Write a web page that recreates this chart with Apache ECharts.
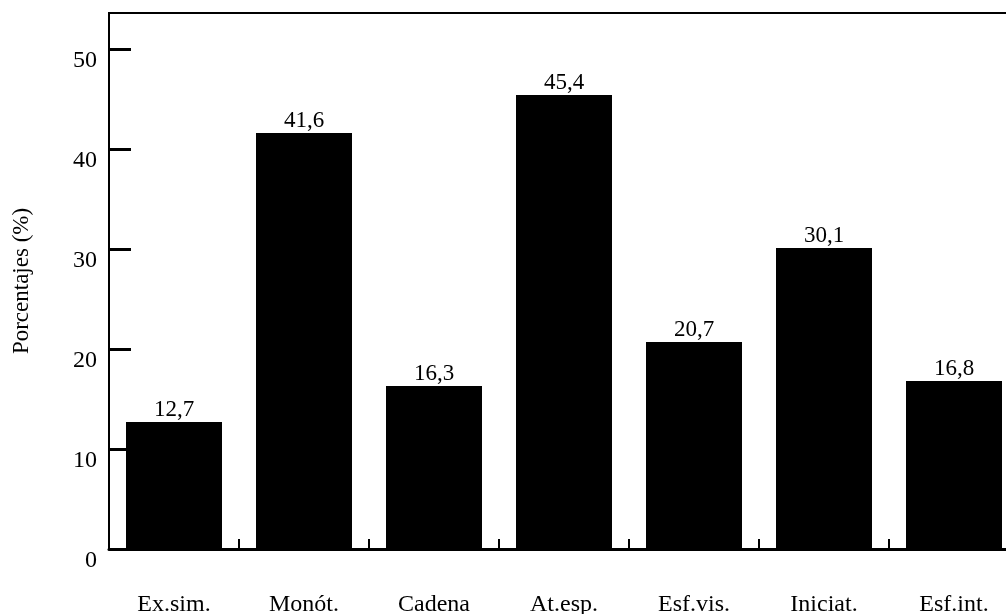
<!DOCTYPE html>
<html>
<head>
<meta charset="utf-8">
<script src="https://cdn.jsdelivr.net/npm/echarts@6/dist/echarts.min.js"></script>
<style>
html,body{margin:0;padding:0;background:#fff;overflow:hidden;}
#chart{width:1030px;height:614px;}
</style>
</head>
<body>
<div id="chart"></div>
<script>
const categories = ['Ex.sim.', 'Monót.', 'Cadena', 'At.esp.', 'Esf.vis.', 'Iniciat.', 'Esf.int.'];
const values = [12.7, 41.6, 16.3, 45.4, 20.7, 30.1, 16.8];
const yTickLabels = [0, 10, 20, 30, 40, 50];
const yAxisTitle = 'Porcentajes (%)';

const FONT = '"Liberation Serif", "Times New Roman", serif';
const chart = echarts.init(document.getElementById('chart'), null, {renderer: 'canvas'});
chart.setOption({
  backgroundColor: '#fff',
  animation: false,
  grid: {
    left: 109, top: 13, width: 910, bottom: 65,
    outerBoundsMode: 'none', containLabel: false,
    show: true, borderColor: '#000', borderWidth: 2, backgroundColor: 'transparent'
  },
  xAxis: {
    type: 'category',
    data: categories,
    axisLine: {show: true, lineStyle: {color: '#000', width: 3}},
    axisTick: {show: true, inside: true, length: 10, alignWithLabel: false, lineStyle: {color: '#000', width: 2}},
    axisLabel: {color: '#000', fontFamily: FONT, fontSize: 24, margin: 44, interval: 0}
  },
  yAxis: {
    type: 'value',
    min: 0, max: 53.6, interval: 10,
    name: yAxisTitle,
    nameLocation: 'middle',
    nameGap: 76,
    nameRotate: 90,
    nameTextStyle: {color: '#000', fontFamily: FONT, fontSize: 23},
    axisLine: {show: true, lineStyle: {color: '#000', width: 2}},
    axisTick: {show: true, inside: true, length: 22, lineStyle: {color: '#000', width: 3}},
    splitLine: {show: false},
    axisLabel: {
      color: '#000', fontFamily: FONT, fontSize: 24, margin: 12,
      verticalAlign: 'top',
      showMaxLabel: false,
      formatter: function (v) { return yTickLabels.indexOf(v) >= 0 ? String(v) : ''; }
    }
  },
  series: [{
    type: 'bar',
    data: values,
    barWidth: 96,
    itemStyle: {color: '#000'},
    label: {
      show: true, position: 'top', distance: 1,
      color: '#000', fontFamily: FONT, fontSize: 23,
      formatter: function (p) { return String(p.value).replace('.', ','); }
    }
  }]
});
</script>
</body>
</html>
